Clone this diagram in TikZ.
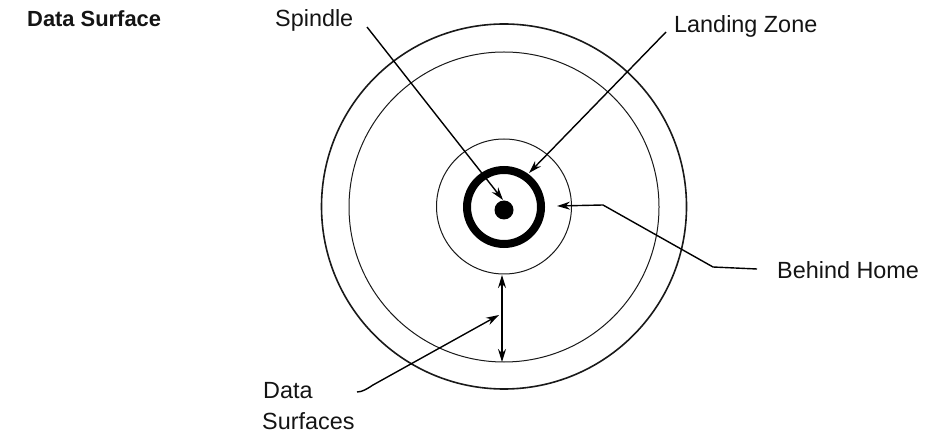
\documentclass[tikz,border=0pt]{standalone}
\usepackage{fontspec}
\setmainfont{Liberation Sans}
\usetikzlibrary{arrows.meta}
\tikzset{
 lbl/.style={font=\fontsize{23.4pt}{28pt}\selectfont,text=black!92,inner sep=0pt,anchor=base west},
 thin ring/.style={circle,draw=black!90,line width=1pt,inner sep=0pt},
 lead/.style={draw=black,line width=1.4pt,line join=round,-{Stealth[length=13pt,width=8pt]}},
}
\begin{document}
\begin{tikzpicture}[x=1pt,y=-1pt]
\useasboundingbox (0,0) rectangle (928,435);
\node[lbl,font=\fontsize{21.9pt}{26pt}\selectfont\bfseries] (title) at (27,27) {Data Surface};
\node[lbl] (spindle) at (275,27) {Spindle};
\node[lbl] (landing) at (674,33) {Landing Zone};
\node[lbl] (behind) at (777,279) {Behind Home};
\node[lbl] (data) at (263,398) {Data};
\node[lbl] (surf) at (262,429) {Surfaces};
\node[thin ring,line width=1.6pt,minimum size=365pt] (outer) at (504,206.5) {};
\node[thin ring,minimum size=310pt] (inner) at (504,207) {};
\node[thin ring,minimum size=135pt] (home) at (504,206.5) {};
\node[circle,draw=black,line width=8pt,minimum size=74pt,inner sep=0pt] (zone) at (504,207) {};
\node[circle,fill=black,minimum size=19pt,inner sep=0pt] (hub) at (504,210) {};
\coordinate (sp1) at (367,27);
\coordinate (sp2) at (503,200);
\draw[lead] (sp1) -- (sp2);
\coordinate (lz1) at (666,32);
\coordinate (lz2) at (529,173);
\draw[lead] (lz1) -- (lz2);
\coordinate (bh1) at (757,269);
\coordinate (bh2) at (713,267);
\coordinate (bh3) at (603,205);
\coordinate (bh4) at (557,206);
\draw[lead] (bh1) -- (bh2) -- (bh3) -- (bh4);
\coordinate (da) at (502,275);
\coordinate (db) at (502,362);
\draw[draw=black,line width=1.4pt,{Stealth[length=13pt,width=8pt]}-{Stealth[length=13pt,width=8pt]}] (da) -- (db);
\coordinate (ds1) at (357,392);
\coordinate (ds2) at (373,385);
\coordinate (ds3) at (499,315);
\draw[lead] (ds1) .. controls (362,392) and (367,389) .. (ds2) -- (ds3);
\end{tikzpicture}
\end{document}
